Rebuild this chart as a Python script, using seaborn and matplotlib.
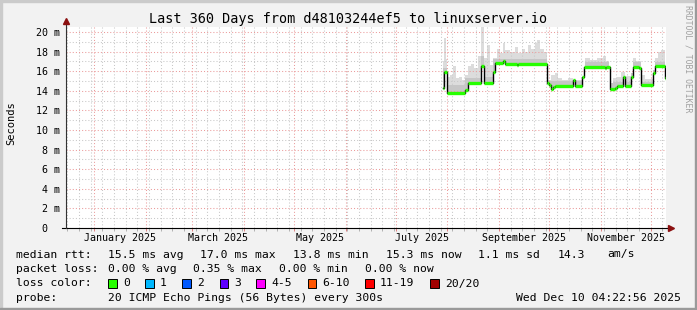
import numpy as np
import pandas as pd
import matplotlib
matplotlib.use("Agg")
import matplotlib.pyplot as plt
import matplotlib.dates as mdates
from matplotlib.ticker import FixedLocator, MultipleLocator, NullFormatter, FixedFormatter
from matplotlib.transforms import blended_transform_factory
from matplotlib.patches import Rectangle
import seaborn as sns

# ---------------- data ----------------
title = "Last 360 Days from d48103244ef5 to linuxserver.io"
period_start = "2024-12-15 04:22:56"
period_end = "2025-12-10 04:22:56"

median_times = [
    "2025-07-29 09:00", "2025-07-29 23:30", "2025-07-31 19:00", "2025-08-11 14:00",
    "2025-08-13 09:00", "2025-08-21 04:00", "2025-08-22 23:00", "2025-08-28 09:00",
    "2025-08-29 07:00", "2025-09-03 09:00", "2025-09-04 21:00", "2025-09-11 19:00",
    "2025-09-12 16:00", "2025-09-29 19:00", "2025-09-30 23:30", "2025-10-02 04:00",
    "2025-10-03 09:00", "2025-10-04 14:00", "2025-10-15 16:00", "2025-10-16 14:00",
    "2025-10-20 19:00", "2025-10-21 23:30", "2025-11-03 14:00", "2025-11-04 04:00",
    "2025-11-06 07:00", "2025-11-09 14:00", "2025-11-10 19:00", "2025-11-14 09:00",
    "2025-11-15 14:00", "2025-11-19 04:00", "2025-11-20 02:00", "2025-11-23 23:30",
    "2025-11-25 04:00", "2025-12-02 09:00", "2025-12-03 14:00", "2025-12-09 14:00",
    "2025-12-10 04:00",
]
median_ms = [
    14.3, 15.9, 13.8, 14.05,
    14.8, 16.55, 14.8, 15.95,
    16.8, 17.0, 16.7, 16.6,
    16.7, 14.75, 14.6, 14.15,
    14.4, 14.5, 15.05, 14.5,
    15.4, 16.45, 16.35, 16.45,
    14.2, 14.25, 14.5, 15.4,
    14.5, 15.4, 16.45, 16.3,
    14.55, 15.8, 16.5, 15.3,
    15.3,
]

smoke_times = [
    "2025-07-29 09:00", "2025-07-29 23:30", "2025-07-31 04:00", "2025-07-31 19:00",
    "2025-08-02 14:00", "2025-08-04 09:00", "2025-08-06 04:00", "2025-08-07 23:00",
    "2025-08-09 19:00", "2025-08-11 14:00", "2025-08-13 09:00", "2025-08-15 04:00",
    "2025-08-16 23:00", "2025-08-19 09:00", "2025-08-21 04:00", "2025-08-22 23:00",
    "2025-08-24 19:00", "2025-08-26 14:00", "2025-08-28 09:00", "2025-08-30 19:00",
    "2025-09-01 14:00", "2025-09-03 09:00", "2025-09-04 14:00", "2025-09-07 14:00",
    "2025-09-10 14:00", "2025-09-12 09:00", "2025-09-14 19:00", "2025-09-16 14:00",
    "2025-09-18 09:00", "2025-09-20 04:00", "2025-09-22 14:00", "2025-09-23 19:00",
    "2025-09-25 14:00", "2025-09-27 23:30", "2025-09-29 19:00", "2025-10-02 04:00",
    "2025-10-04 14:00", "2025-10-06 09:00", "2025-10-08 19:00", "2025-10-12 09:00",
    "2025-10-15 09:00", "2025-10-20 19:00", "2025-10-22 14:00", "2025-10-25 14:00",
    "2025-10-29 19:00", "2025-11-02 09:00", "2025-11-04 04:00", "2025-11-05 23:30",
    "2025-11-08 09:00", "2025-11-10 19:00", "2025-11-13 04:00", "2025-11-15 14:00",
    "2025-11-19 04:00", "2025-11-20 09:00", "2025-11-22 04:00", "2025-11-25 04:00",
    "2025-11-27 14:00", "2025-12-02 09:00", "2025-12-03 14:00", "2025-12-05 09:00",
    "2025-12-07 04:00", "2025-12-09 14:00", "2025-12-10 04:00",
]
smoke_max_ms = [
    17.0, 19.4, 17.2, 15.4,
    15.6, 16.5, 15.3, 15.45,
    15.1, 15.6, 16.5, 16.7,
    16.3, 17.5, 21.0, 17.3,
    18.7, 16.6, 17.3, 18.3,
    17.85, 18.85, 18.2, 18.0,
    18.5, 17.8, 18.3, 18.0,
    18.7, 18.3, 18.85, 19.2,
    18.3, 18.0, 15.1, 15.6,
    15.8, 15.3, 15.1, 15.3,
    15.1, 15.45, 17.3, 17.1,
    17.3, 17.55, 17.0, 14.75,
    15.3, 15.45, 15.95, 15.5,
    15.8, 17.3, 17.0, 15.6,
    15.2, 16.1, 17.3, 18.0,
    18.15, 16.0, 16.0,
]

core_times = [
    "2025-07-29 09:00", "2025-07-31 19:00", "2025-08-11 14:00", "2025-08-21 04:00",
    "2025-08-22 23:00", "2025-08-28 09:00", "2025-09-29 19:00", "2025-10-20 19:00",
    "2025-11-06 07:00", "2025-11-19 04:00", "2025-11-25 04:00", "2025-12-02 09:00",
    "2025-12-10 04:00",
]
core_ms = [
    16.3, 14.6, 15.3, 17.5,
    15.4, 17.2, 15.0, 16.9,
    14.9, 16.9, 14.9, 16.9,
    16.9,
]

y_ticks = [0, 2, 4, 6, 8, 10, 12, 14, 16, 18, 20]
y_tick_labels = ["0  ", "2 m", "4 m", "6 m", "8 m", "10 m", "12 m", "14 m",
                 "16 m", "18 m", "20 m"]
month_labels = ["January 2025", "March 2025", "May 2025", "July 2025",
                "September 2025", "November 2025"]
y_label = "Seconds"

rtt_items = ["median rtt:", "15.5 ms avg", "17.0 ms max", "13.8 ms min",
             "15.3 ms now", "1.1 ms sd", "14.3", "am/s"]
loss_items = ["packet loss:", "0.00 % avg", "0.35 % max", "0.00 % min", "0.00 % now"]
loss_color_names = ["0", "1", "2", "3", "4-5", "6-10", "11-19", "20/20"]
loss_colors = ["#26ff00", "#00b8ff", "#0059ff", "#5e00ff", "#ff00ff",
               "#ff5500", "#ff0000", "#a10000"]
probe_items = ["probe:", "20 ICMP Echo Pings (56 Bytes) every 300s"]
stamp = "Wed Dec 10 04:22:56 2025"
watermark = "RRDTOOL / TOBI OETIKER"

# ---------------- layout helpers ----------------
W, H = 697, 310
MONO = "DejaVu Sans Mono"
plt.rcParams["font.family"] = [MONO]


def fx(px):
    return px / W


def fy(py):
    return 1 - py / H


fig = plt.figure(figsize=(W / 100, H / 100), dpi=100)
fig.patch.set_facecolor("#f2f2f2")

# outer 3-D frame
fig.patches.append(Rectangle((0, 0), fx(2), 1, transform=fig.transFigure, color="#cbcbcb", zorder=0))
fig.patches.append(Rectangle((0, fy(2)), 1, fx(2) * W / H, transform=fig.transFigure, color="#cbcbcb", zorder=0))
fig.patches.append(Rectangle((fx(W - 2), 0), fx(2), 1, transform=fig.transFigure, color="#9a9a9a", zorder=0))
fig.patches.append(Rectangle((0, 0), 1, 2 / H, transform=fig.transFigure, color="#9a9a9a", zorder=0))

ax_l, ax_r, ax_b, ax_t = 66, 666, 228, 27
ax = fig.add_axes([fx(ax_l), fy(ax_b), fx(ax_r - ax_l), (ax_b - ax_t) / H])
ax.set_facecolor("white")

t0 = pd.Timestamp(period_start)
t1 = pd.Timestamp(period_end)
ax.set_xlim(t0, t1)
ax.set_ylim(0, 20.5)

# ---------------- smoke ----------------
med = pd.Series(median_ms, index=pd.to_datetime(median_times))
top = pd.Series(smoke_max_ms, index=pd.to_datetime(smoke_times))
core = pd.Series(core_ms, index=pd.to_datetime(core_times))
grid = med.index.union(top.index).union(core.index)
med_g = med.reindex(grid).ffill().to_numpy()
top_g = top.reindex(grid).ffill().to_numpy()
core_g = core.reindex(grid).ffill().to_numpy()
hi = np.maximum(top_g, med_g)
mid = np.minimum(np.maximum(core_g, med_g), hi)
ax.fill_between(grid, med_g, hi, step="post", color="#dcdcdc", lw=0, zorder=1)
ax.fill_between(grid, med_g, mid, step="post", color="#c6c6c6", lw=0, zorder=1.1)

# ---------------- median line ----------------
df = pd.DataFrame({"time": pd.to_datetime(median_times), "median": median_ms})
sns.lineplot(data=df, x="time", y="median", drawstyle="steps-post", color="black",
             lw=1.0, estimator=None, sort=False, legend=False, ax=ax, zorder=3)
tnum = mdates.date2num(df["time"])
ax.hlines(df["median"].iloc[:-1], tnum[:-1], tnum[1:], color=loss_colors[0],
          lw=2.4, zorder=4)

# ---------------- grid & ticks ----------------
ax.xaxis.set_major_locator(mdates.MonthLocator())
ax.xaxis.set_minor_locator(mdates.WeekdayLocator(byweekday=mdates.MO))
ax.xaxis.set_major_formatter(NullFormatter())
ax.xaxis.set_minor_formatter(NullFormatter())
ax.yaxis.set_major_locator(FixedLocator(y_ticks))
ax.yaxis.set_major_formatter(FixedFormatter(y_tick_labels))
ax.yaxis.set_minor_locator(MultipleLocator(1))
ax.set_axisbelow("line")
ax.grid(which="minor", color="#c8c8c8", lw=0.75, ls=(0, (1, 2)))
ax.grid(which="major", color="#eb9b9b", lw=0.75, ls=(0, (1, 2)))
ax.tick_params(axis="x", which="major", length=2, width=0.7, color="#e08080", direction="out")
ax.tick_params(axis="x", which="minor", length=2, width=0.7, color="#b0b0b0", direction="out")
ax.tick_params(axis="y", which="both", length=0, pad=4.3, labelsize=7.2)
for s in ax.spines.values():
    s.set_visible(False)
ax.set_xlabel("")
ax.set_ylabel("")

# axis lines and arrows
ax.plot([-4 / 600, 1 + 4 / 600], [0, 0], color="black", lw=0.8, transform=ax.transAxes,
        clip_on=False, zorder=6)
ax.plot([0, 0], [0, 1 + 4 / 201], color="#333333", lw=0.8, transform=ax.transAxes,
        clip_on=False, zorder=6)
ax.plot([1 + 5 / 600], [0], marker=">", ms=4.5, color="#8b1010", mec="#8b1010",
        transform=ax.transAxes, clip_on=False, zorder=7)
ax.plot([0], [1 + 6 / 201], marker="^", ms=4.5, color="#8b1010", mec="#8b1010",
        transform=ax.transAxes, clip_on=False, zorder=7)

# month labels, centred in their month
bt = blended_transform_factory(ax.transData, fig.transFigure)
for lab in month_labels:
    m0 = pd.to_datetime(lab, format="%B %Y")
    m1 = m0 + pd.offsets.MonthBegin(1)
    ax.text(m0 + (m1 - m0) / 2, fy(238), lab, transform=bt, ha="center", va="center",
            fontsize=7.2)

# y label
fig.text(fx(11), fy(123), y_label, rotation=90, ha="center", va="center", fontsize=7.5)

# title
fig.text(0.5, fy(19), title, ha="center", va="center", fontsize=9.75)

# watermark
fig.text(fx(688), fy(5), watermark, rotation=270, ha="center", va="top", fontsize=5.9,
         color="#a0a0a0")

# ---------------- legend ----------------
LFS = 8.2
rtt_x = [16.4, 107.6, 200, 292.8, 385.5, 478, 557.5, 607]
for s, x in zip(rtt_items, rtt_x):
    fig.text(fx(x), fy(254.5), s, ha="left", va="center", fontsize=LFS)
loss_x = [16.4, 107.6, 193, 279, 365]
for s, x in zip(loss_items, loss_x):
    fig.text(fx(x), fy(269), s, ha="left", va="center", fontsize=LFS)
fig.text(fx(16.4), fy(283.5), "loss color:", ha="left", va="center", fontsize=LFS)
box_x = [108, 145, 182, 219.6, 256.4, 307.6, 365, 430]
for name, col, x in zip(loss_color_names, loss_colors, box_x):
    fig.patches.append(Rectangle((fx(x), fy(288)), fx(8.5), 9 / H, transform=fig.transFigure,
                                 facecolor=col, edgecolor="black", lw=0.7, zorder=3))
    fig.text(fx(x + 15), fy(283.5), name, ha="left", va="center", fontsize=LFS)
fig.text(fx(16.4), fy(298), probe_items[0], ha="left", va="center", fontsize=LFS)
fig.text(fx(107.6), fy(298), probe_items[1], ha="left", va="center", fontsize=LFS)
fig.text(fx(681), fy(298), stamp, ha="right", va="center", fontsize=LFS)

fig.savefig("out.png", dpi=100, facecolor=fig.get_facecolor())
